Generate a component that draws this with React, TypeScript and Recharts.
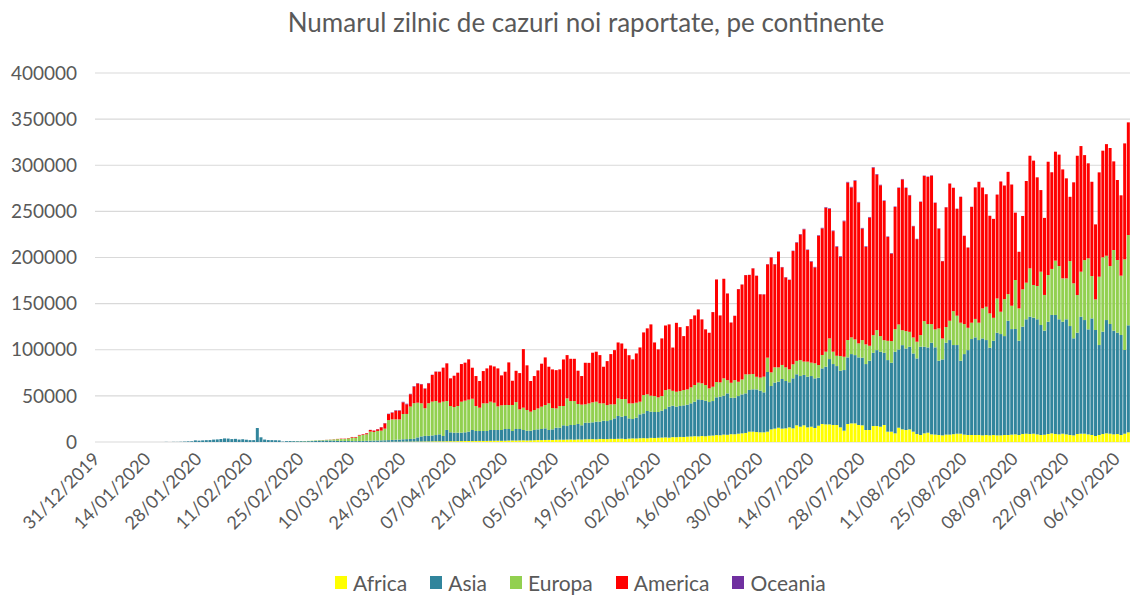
import { BarChart, Bar, XAxis, YAxis, CartesianGrid } from "recharts";

// daily new cases per continent, 31/12/2019 .. 09/10/2020
const AFRICA = [
  0, 0, 0, 0, 0, 0, 0, 0, 0, 0,
  0, 0, 0, 0, 0, 0, 0, 0, 0, 0,
  0, 0, 0, 0, 0, 0, 0, 0, 0, 0,
  0, 0, 0, 0, 0, 0, 0, 0, 0, 0,
  0, 0, 0, 0, 0, 0, 1, 0, 0, 0,
  0, 0, 0, 0, 0, 0, 0, 1, 0, 0,
  2, 1, 2, 3, 10, 12, 10, 15, 20, 20,
  25, 30, 40, 50, 60, 80, 90, 100, 150, 160,
  200, 220, 250, 300, 350, 400, 420, 450, 500, 550,
  600, 650, 700, 750, 800, 750, 850, 900, 850, 950,
  1000, 1100, 1100, 1000, 1050, 1200, 1150, 1200, 1300, 1350,
  1400, 1300, 1350, 1600, 1500, 1550, 1700, 1800, 1650, 1750,
  1900, 2100, 2050, 2200, 2300, 2150, 2400, 2500, 2450, 2600,
  2700, 2500, 2800, 2650, 2900, 3000, 3100, 2900, 3300, 3200,
  3100, 3400, 3300, 3500, 3600, 3200, 3700, 3900, 3800, 4100,
  4200, 4000, 4500, 4300, 4600, 4800, 5000, 4700, 5300, 5200,
  5500, 5400, 5800, 6000, 6300, 6100, 6500, 6200, 6800, 7000,
  7500, 7300, 8000, 7800, 8500, 8400, 9000, 9400, 9800, 11200,
  11200, 10800, 10500, 10500, 11200, 13700, 14500, 15500, 14500, 14800,
  15900, 14800, 18100, 16600, 18100, 15900, 16600, 15200, 17700, 19500,
  19100, 19100, 18400, 18400, 15900, 12300, 19500, 20200, 20200, 18400,
  18100, 13000, 13000, 17300, 17300, 16600, 18400, 11200, 11200, 9400,
  15500, 13700, 13000, 13700, 11200, 8700, 7600, 9400, 10100, 8300,
  8000, 7600, 7200, 8000, 8000, 8500, 9000, 9000, 8000, 7600,
  7600, 7600, 7600, 7200, 7600, 7200, 7600, 7200, 7200, 7600,
  7600, 8000, 8300, 7600, 8700, 9000, 8700, 9000, 8300, 7600,
  7900, 8700, 9400, 8700, 8300, 9000, 8300, 7600, 7200, 8700,
  9000, 9000, 8300, 7600, 6500, 7600, 8700, 9400, 9000, 8300,
  8700, 7600, 9000, 10500,
];

const ASIA = [
  27, 0, 0, 17, 0, 15, 0, 0, 0, 0,
  0, 0, 1, 0, 1, 1, 0, 4, 17, 136,
  20, 150, 130, 270, 450, 690, 780, 1780, 1470, 1750,
  2000, 2110, 2600, 2830, 3240, 3900, 3710, 3160, 3400, 2660,
  3000, 2480, 2030, 2030, 15150, 5100, 2650, 2100, 2060, 1900,
  1770, 480, 900, 1000, 900, 800, 900, 800, 900, 1000,
  1200, 1400, 1500, 1600, 1600, 1500, 1300, 1200, 1100, 1000,
  1000, 900, 1000, 1100, 1200, 1300, 1400, 1500, 1600, 1700,
  1800, 2000, 2200, 2300, 2600, 2700, 2900, 3200, 4500, 5500,
  6000, 6000, 6400, 6800, 7500, 5800, 12200, 9600, 9250, 9150,
  9100, 9400, 10100, 12000, 10850, 10700, 10750, 10700, 11700, 11650,
  11600, 11700, 12750, 12500, 10400, 12550, 12400, 11200, 10650, 10550,
  11100, 11600, 12050, 12600, 10700, 11550, 13100, 13000, 15650, 14700,
  15700, 15900, 16700, 15450, 18000, 17900, 18200, 19100, 18700, 19900,
  19600, 20400, 22300, 24700, 23800, 25000, 21900, 21000, 22600, 25900,
  26800, 29600, 28400, 28200, 27900, 29100, 30700, 33600, 34000, 33100,
  33500, 34300, 34600, 35900, 37400, 40100, 39000, 38600, 36500, 37400,
  40900, 41800, 42200, 44900, 39500, 39600, 40800, 42200, 42900, 45200,
  45900, 46200, 45200, 43300, 64700, 47000, 49900, 49900, 53800, 51300,
  48800, 54200, 55300, 54900, 54600, 54900, 54900, 53800, 52000, 60300,
  62500, 70800, 66100, 63900, 61400, 65700, 72200, 75100, 74000, 73300,
  73300, 71500, 75100, 79400, 82300, 81200, 78300, 77600, 74700, 88400,
  84800, 91300, 88400, 89500, 84800, 81900, 95700, 93900, 92400, 99300,
  94600, 80500, 82300, 99600, 102500, 96600, 96100, 79100, 87300, 92000,
  104000, 105800, 102900, 105100, 102900, 95000, 102100, 111200, 109800, 107200,
  123800, 114400, 114200, 102200, 116300, 124000, 127100, 125800, 124700, 119200,
  112800, 121700, 128300, 129000, 124700, 121400, 124700, 118100, 105200, 109800,
  126800, 123200, 113800, 126400, 114900, 97500, 110900, 122800, 118900, 112400,
  109800, 108400, 90700, 116000,
];

const EUROPA = [
  0, 0, 0, 0, 0, 0, 0, 0, 0, 0,
  0, 0, 0, 0, 0, 0, 0, 0, 0, 0,
  0, 0, 0, 0, 0, 3, 0, 1, 4, 3,
  5, 3, 5, 2, 2, 3, 3, 2, 5, 2,
  6, 3, 2, 1, 2, 1, 3, 0, 1, 0,
  2, 6, 20, 60, 100, 150, 200, 300, 300, 400,
  500, 500, 600, 700, 900, 1300, 1800, 2000, 2100, 2900,
  3700, 3800, 5900, 6500, 7100, 9900, 9400, 10400, 10600, 12600,
  21800, 22300, 22100, 21900, 27400, 27300, 35100, 38400, 37600, 35900,
  30000, 35400, 36700, 36900, 34300, 37200, 31400, 28500, 27800, 28900,
  33600, 34300, 34700, 33900, 27100, 25300, 30000, 30000, 30700, 29600,
  25600, 26700, 26000, 26000, 28200, 29200, 21300, 24200, 22400, 20600,
  21700, 22700, 24200, 25300, 28900, 23100, 20900, 23500, 20900, 30000,
  26000, 26000, 21700, 22400, 19900, 20900, 21700, 21700, 19900, 18800,
  17300, 17000, 15200, 19100, 19100, 18400, 16200, 17000, 16200, 13700,
  19900, 18100, 17300, 17300, 15900, 15900, 20600, 18800, 16200, 16200,
  16200, 16600, 16600, 17300, 18100, 18100, 18100, 17000, 14800, 15500,
  16600, 15500, 18800, 14400, 16200, 19100, 15500, 16200, 20600, 17000,
  16600, 13700, 14100, 17000, 15500, 14800, 16600, 15500, 15200, 14800,
  14100, 15200, 14500, 17300, 14500, 16300, 14500, 16300, 13700, 14500,
  16300, 22400, 13400, 11200, 15900, 14400, 18800, 18100, 17000, 15200,
  19100, 21300, 16200, 19100, 21700, 17000, 13700, 20900, 23500, 24500,
  27100, 16200, 18800, 16200, 17300, 18100, 12600, 27800, 25300, 20200,
  19500, 35000, 22700, 17000, 20900, 36800, 31800, 41200, 32500, 24200,
  17700, 20000, 18800, 32500, 36100, 37200, 24900, 37200, 24200, 40100,
  28900, 25300, 53100, 35000, 40500, 39700, 52400, 35400, 36100, 57800,
  38700, 50600, 49900, 58900, 57800, 47000, 44400, 70400, 59600, 40800,
  48800, 65000, 77000, 45900, 33200, 74100, 80600, 69700, 62900, 87400,
  78800, 64300, 98300, 97900,
];

const AMERICA = [
  0, 0, 0, 0, 0, 0, 0, 0, 0, 0,
  0, 0, 0, 0, 0, 0, 0, 0, 0, 0,
  0, 1, 0, 0, 1, 1, 3, 1, 0, 0,
  1, 1, 1, 1, 0, 1, 0, 0, 0, 0,
  1, 0, 0, 1, 0, 0, 0, 0, 0, 0,
  0, 2, 5, 5, 5, 10, 10, 10, 20, 30,
  30, 50, 100, 100, 150, 200, 250, 400, 400, 400,
  700, 700, 700, 700, 1100, 1800, 1500, 1800, 3600, 5800,
  6500, 7300, 9500, 9500, 12700, 10500, 13400, 18100, 20900, 20600,
  21300, 21600, 28900, 31800, 33600, 36800, 40800, 30000, 33900, 36100,
  40800, 41200, 43700, 33600, 32500, 28900, 35000, 37900, 39300, 39300,
  41200, 32500, 36100, 46200, 26400, 33900, 39300, 63500, 48400, 33200,
  36800, 41200, 46600, 51600, 39700, 41900, 41500, 39700, 50500, 46900,
  45800, 45800, 36100, 31000, 45100, 44000, 53800, 54200, 52300, 39700,
  47700, 54500, 58800, 60600, 60300, 54500, 52300, 47700, 53400, 58800,
  67900, 71500, 77300, 58100, 52000, 62500, 70000, 70400, 46900, 74700,
  69300, 58500, 68600, 74000, 75400, 79400, 69300, 60300, 60300, 80900,
  111200, 72600, 107900, 93900, 65300, 69700, 100400, 102900, 107600, 107700,
  114500, 109500, 90300, 89200, 101200, 124600, 111600, 125400, 105900, 97500,
  96800, 122800, 128300, 136200, 143400, 121000, 109500, 104000, 140200, 137300,
  156100, 140500, 130700, 118100, 107600, 146900, 170800, 162500, 171800, 152700,
  120900, 105800, 139000, 181600, 168600, 163500, 150900, 112600, 94900, 132500,
  148000, 163500, 155200, 148000, 120600, 111200, 144400, 157400, 159600, 161000,
  137200, 108300, 83800, 129800, 148700, 133600, 115900, 136500, 95700, 87000,
  125600, 142600, 152700, 131000, 122000, 105800, 107200, 112600, 141200, 123100,
  132500, 131400, 73000, 61400, 79500, 110200, 122100, 134800, 117800, 88500,
  83500, 122800, 104800, 118100, 120700, 118100, 108400, 69700, 109500, 151000,
  136200, 113800, 103000, 102200, 81300, 113100, 115600, 121000, 127900, 96100,
  86700, 87100, 125700, 122100,
];

const OCEANIA = [
  0, 0, 0, 0, 0, 0, 0, 0, 0, 0,
  0, 0, 0, 0, 0, 0, 0, 0, 0, 0,
  0, 0, 0, 0, 0, 3, 1, 0, 0, 1,
  2, 1, 0, 0, 0, 1, 1, 0, 0, 0,
  0, 0, 0, 0, 0, 0, 0, 0, 0, 0,
  0, 0, 0, 0, 0, 0, 1, 1, 2, 2,
  3, 4, 9, 8, 14, 13, 22, 24, 33, 29,
  41, 48, 63, 78, 104, 118, 155, 196, 262, 290,
  364, 392, 460, 488, 560, 612, 430, 515, 396, 360,
  287, 352, 240, 212, 146, 128, 96, 94, 75, 73,
  58, 53, 47, 42, 31, 33, 27, 24, 26, 19,
  22, 18, 21, 16, 19, 14, 17, 13, 12, 14,
  11, 12, 9, 11, 10, 8, 12, 9, 11, 10,
  9, 12, 10, 8, 14, 16, 13, 17, 15, 14,
  16, 13, 17, 14, 21, 18, 22, 19, 20, 23,
  18, 21, 19, 24, 20, 26, 23, 27, 31, 28,
  33, 29, 31, 36, 34, 42, 38, 47, 52, 56,
  63, 68, 84, 88, 103, 108, 124, 127, 144, 148,
  173, 178, 204, 216, 255, 268, 305, 316, 354, 372,
  405, 418, 456, 463, 508, 514, 556, 552, 584, 596,
  626, 634, 655, 648, 676, 672, 695, 702, 694, 688,
  686, 652, 645, 612, 604, 576, 566, 532, 526, 494,
  486, 452, 446, 414, 406, 372, 366, 334, 326, 296,
  284, 254, 246, 214, 206, 186, 184, 166, 164, 146,
  144, 126, 124, 106, 104, 92, 94, 82, 84, 72,
  74, 62, 64, 52, 54, 48, 46, 42, 44, 38,
  42, 38, 36, 34, 37, 28, 32, 29, 31, 27,
  33, 28, 26, 24, 27, 22, 26, 23, 21, 19,
  22, 18, 21, 19,
];

const TICK_LABELS = [
  "31/12/2019", "14/01/2020", "28/01/2020", "11/02/2020", "25/02/2020",
  "10/03/2020", "24/03/2020", "07/04/2020", "21/04/2020", "05/05/2020",
  "19/05/2020", "02/06/2020", "16/06/2020", "30/06/2020", "14/07/2020",
  "28/07/2020", "11/08/2020", "25/08/2020", "08/09/2020", "22/09/2020",
  "06/10/2020",
];

const Y_TICKS = [0, 50000, 100000, 150000, 200000, 250000, 300000, 350000, 400000];

const SERIES = [
  { key: "africa", name: "Africa", color: "#FFFF00" },
  { key: "asia", name: "Asia", color: "#31859C" },
  { key: "europa", name: "Europa", color: "#92D050" },
  { key: "america", name: "America", color: "#FF0000" },
  { key: "oceania", name: "Oceania", color: "#7030A0" },
];

const pad = (n: number) => (n < 10 ? "0" + n : "" + n);
const START = Date.UTC(2019, 11, 31);
const DATES = AMERICA.map((_, i) => {
  const d = new Date(START + i * 86400000);
  return `${pad(d.getUTCDate())}/${pad(d.getUTCMonth() + 1)}/${d.getUTCFullYear()}`;
});

const DATA = DATES.map((date, i) => ({
  date,
  africa: AFRICA[i],
  asia: ASIA[i],
  europa: EUROPA[i],
  america: AMERICA[i],
  oceania: OCEANIA[i],
}));

const FONT = "Lato, 'Open Sans', sans-serif";
const GREY = "#595959";

function DateTick(props: any) {
  const { x, y, payload } = props;
  const tx = x + 4;
  const ty = y + 18;
  return (
    <text
      x={tx}
      y={ty}
      transform={`rotate(-45 ${tx} ${ty})`}
      textAnchor="end"
      fill={GREY}
      fontSize={18}
      fontFamily={FONT}
    >
      {payload.value}
    </text>
  );
}

export default function App() {
  return (
    <div
      style={{
        position: "absolute",
        left: 0,
        top: 0,
        width: 1131,
        height: 596,
        background: "#fff",
        fontFamily: FONT,
        overflow: "hidden",
      }}
    >
      <div
        style={{
          position: "absolute",
          left: 0,
          top: 7,
          width: 1172,
          textAlign: "center",
          fontSize: 26,
          lineHeight: "30px",
          color: GREY,
        }}
      >
        Numarul zilnic de cazuri noi raportate, pe continente
      </div>

      <BarChart
        width={1131}
        height={596}
        data={DATA}
        margin={{ top: 73, right: 1, left: 0, bottom: 0 }}
        barCategoryGap="13%"
      >
        <CartesianGrid vertical={false} stroke="#d9d9d9" strokeWidth={1.2} />
        <XAxis
          dataKey="date"
          ticks={TICK_LABELS}
          interval={0}
          height={154}
          axisLine={false}
          tickLine={false}
          tickSize={0}
          tickMargin={0}
          tick={<DateTick />}
        />
        <YAxis
          width={95}
          domain={[0, 400000]}
          ticks={Y_TICKS}
          axisLine={false}
          tickLine={false}
          tickSize={0}
          tickMargin={18}
          tick={{ fill: GREY, fontSize: 19, fontFamily: FONT }}
        />
        {SERIES.map((s) => (
          <Bar
            key={s.key}
            dataKey={s.key}
            name={s.name}
            stackId="c"
            fill={s.color}
            isAnimationActive={false}
          />
        ))}
      </BarChart>

      <div
        style={{
          position: "absolute",
          left: 335,
          top: 572,
          display: "flex",
          alignItems: "center",
          gap: 23,
          fontSize: 21,
          lineHeight: "21px",
          color: GREY,
        }}
      >
        {SERIES.map((s) => (
          <div key={s.key} style={{ display: "flex", alignItems: "center", gap: 6 }}>
            <span style={{ width: 12, height: 13, background: s.color, display: "inline-block" }} />
            <span>{s.name}</span>
          </div>
        ))}
      </div>
    </div>
  );
}
